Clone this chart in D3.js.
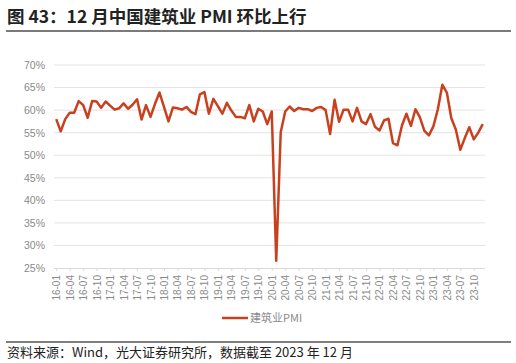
<!DOCTYPE html>
<html>
<head>
<meta charset="utf-8">
<script src="https://cdn.jsdelivr.net/npm/d3@7"></script>
<style>
  body { margin: 0; background: #fff; }
  svg { display: block; }
  .cjk { font-family: "Noto Sans CJK SC", "Noto Sans", sans-serif; }
  .tick text { font-family: "Liberation Sans", Arial, sans-serif; fill: #8a8a8a; }
</style>
</head>
<body>
<div id="chart"></div>
<script>
// monthly 16-01 .. 23-12
let years = ["16", "17", "18", "19", "20", "21", "22", "23"];
let months = ["01","02","03","04","05","06","07","08","09","10","11","12"];
let categories = [];
years.forEach(y => months.forEach(m => categories.push(y + "-" + m)));

// 建筑业PMI, %
let pmi = [
  58.0, 55.3, 58.0, 59.4, 59.4, 62.0, 61.1, 58.3, 62.0, 61.9, 60.5, 61.9,
  61.0, 60.1, 60.4, 61.5, 60.3, 61.2, 62.4, 57.9, 61.1, 58.5, 61.4, 63.9,
  60.7, 57.5, 60.6, 60.4, 60.1, 60.7, 59.6, 59.1, 63.5, 64.0, 59.2, 62.5,
  60.9, 59.2, 61.6, 59.9, 58.5, 58.5, 58.2, 61.1, 57.5, 60.3, 59.7, 56.9,
  59.7, 26.6, 55.1, 59.7, 60.8, 59.8, 60.5, 60.2, 60.2, 59.8, 60.5, 60.7,
  60.0, 54.7, 62.3, 57.4, 60.1, 60.1, 57.5, 60.5, 57.5, 56.9, 59.1, 56.3,
  55.5, 57.7, 58.1, 52.7, 52.2, 56.6, 59.2, 56.5, 60.2, 58.4, 55.4, 54.4,
  56.4, 60.2, 65.6, 63.9, 58.2, 55.7, 51.2, 53.8, 56.2, 53.5, 55.0, 56.9
];

let yTicks = [25, 30, 35, 40, 45, 50, 55, 60, 65, 70];
let xTickLabels = categories.filter((d, i) => i % 3 === 0);

let dimensions = {
    width: 516,
    height: 363,
    plot: { left: 54, right: 485, top: 65, bottom: 268 }
};

let svg = d3.select("#chart")
    .append("svg")
    .attr("width", dimensions.width)
    .attr("height", dimensions.height);

// title + rule
svg.append("text")
    .attr("class", "cjk")
    .attr("x", 7)
    .attr("y", 23)
    .attr("font-size", 17.5)
    .attr("font-weight", "bold")
    .attr("fill", "#222")
    .text("图 43：12 月中国建筑业 PMI 环比上行");

svg.append("line")
    .attr("x1", 6).attr("x2", 511)
    .attr("y1", 31).attr("y2", 31)
    .attr("stroke", "#7a7a7a")
    .attr("stroke-width", 2);

let xScale = d3.scalePoint()
    .domain(categories)
    .range([dimensions.plot.left, dimensions.plot.right])
    .padding(0.5);

let yScale = d3.scaleLinear()
    .domain([25, 70])
    .range([dimensions.plot.bottom, dimensions.plot.top]);

// gridlines
svg.append("g")
    .selectAll("line")
    .data(yTicks.slice(1))
    .join("line")
    .attr("x1", dimensions.plot.left)
    .attr("x2", dimensions.plot.right)
    .attr("y1", d => yScale(d))
    .attr("y2", d => yScale(d))
    .attr("stroke", "#e3e3e3")
    .attr("stroke-width", 1);

// y axis (labels only)
let yAxis = svg.append("g")
    .attr("transform", `translate(${dimensions.plot.left}, 0)`)
    .call(d3.axisLeft(yScale).tickValues(yTicks).tickFormat(d => d + "%").tickSize(0).tickPadding(9));
yAxis.select(".domain").remove();
yAxis.selectAll("text").attr("font-size", 10.5);

// x axis
let xAxis = svg.append("g")
    .attr("transform", `translate(0, ${dimensions.plot.bottom})`)
    .call(d3.axisBottom(xScale).tickValues(xTickLabels).tickSize(3));
xAxis.select(".domain")
    .attr("stroke", "#d9d9d9")
    .attr("d", `M${dimensions.plot.left},0.5H${dimensions.plot.right}`);
xAxis.selectAll(".tick line").attr("stroke", "#d9d9d9");
xAxis.selectAll("text")
    .attr("font-size", 10)
    .attr("transform", "rotate(-90)")
    .attr("text-anchor", "end")
    .attr("x", -7)
    .attr("y", 0)
    .attr("dy", "0.35em");

// the line
let line = d3.line()
    .x((d, i) => xScale(categories[i]))
    .y(d => yScale(d));

svg.append("path")
    .datum(pmi)
    .attr("fill", "none")
    .attr("stroke", "#c9401f")
    .attr("stroke-width", 2.5)
    .attr("stroke-linejoin", "round")
    .attr("d", line);

// legend
svg.append("line")
    .attr("x1", 222).attr("x2", 248)
    .attr("y1", 318).attr("y2", 318)
    .attr("stroke", "#c9401f")
    .attr("stroke-width", 2.5);
svg.append("text")
    .attr("class", "cjk")
    .attr("x", 250)
    .attr("y", 322)
    .attr("font-size", 11)
    .attr("fill", "#8a8a8a")
    .text("建筑业PMI");

// source
svg.append("line")
    .attr("x1", 6).attr("x2", 511)
    .attr("y1", 342).attr("y2", 342)
    .attr("stroke", "#555")
    .attr("stroke-width", 1.5);
svg.append("text")
    .attr("class", "cjk")
    .attr("x", 7)
    .attr("y", 357)
    .attr("font-size", 13)
    .attr("fill", "#222")
    .text("资料来源：Wind，光大证券研究所，数据截至 2023 年 12 月");
</script>
</body>
</html>
